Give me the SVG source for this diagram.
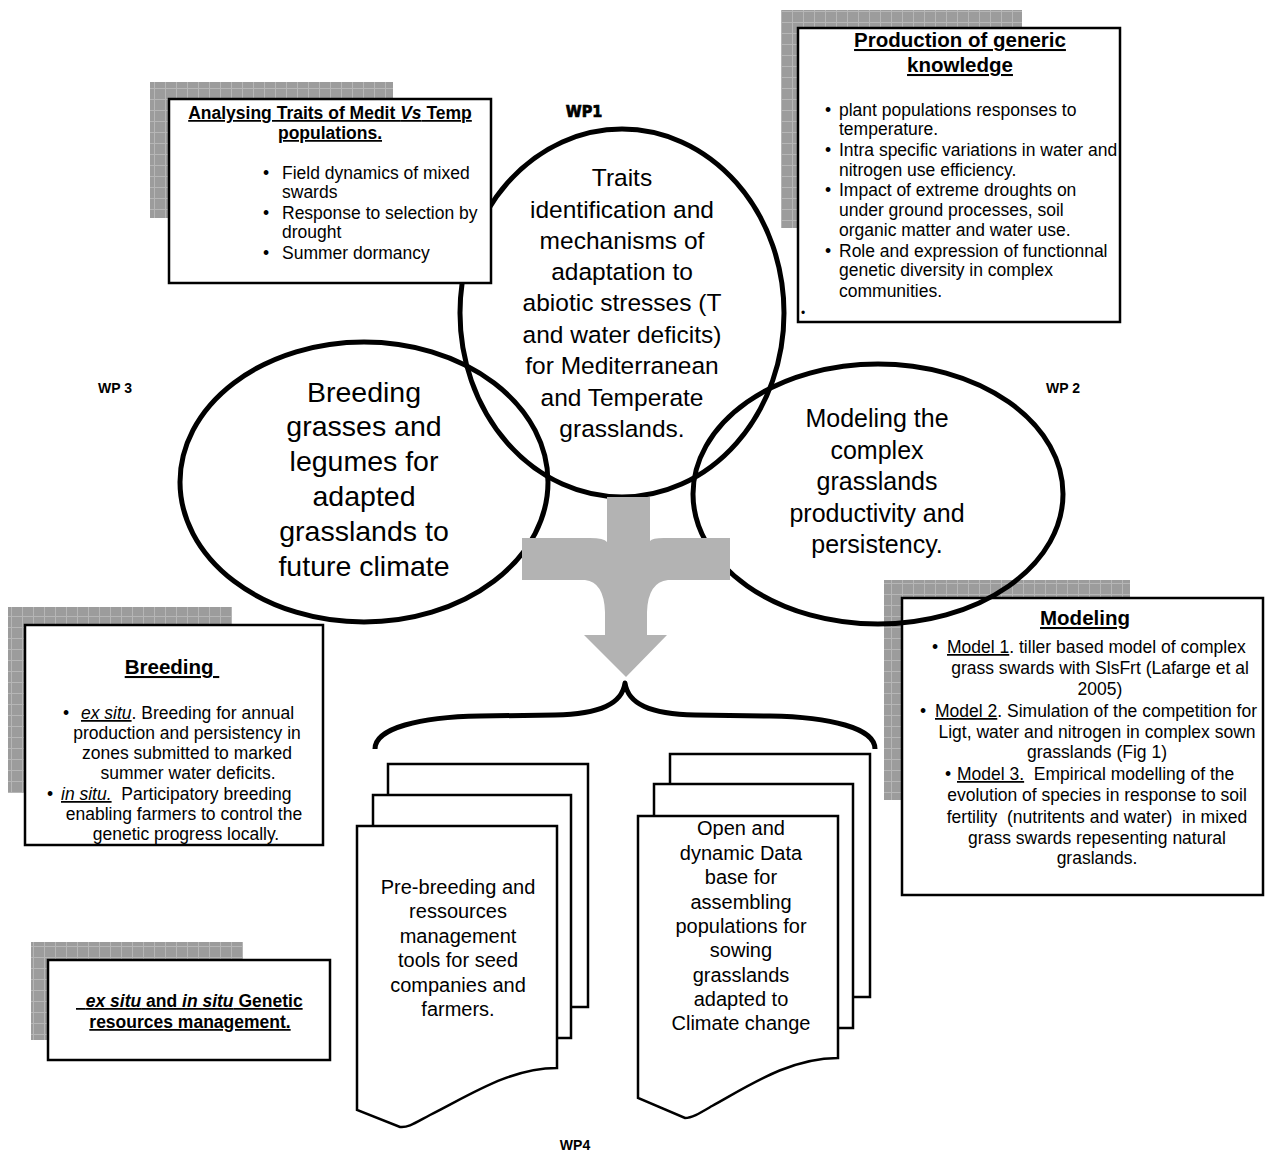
<svg xmlns="http://www.w3.org/2000/svg" width="1266" height="1153" viewBox="0 0 1266 1153">
<style>
.box{fill:#fff;stroke:#000;stroke-width:2.5}
.shadow{fill:url(#grid)}
.ell{fill:none;stroke:#000;stroke-width:5}
.doc{fill:#fff;stroke:#000;stroke-width:2.5}
.t{font-family:"Liberation Sans",Arial,sans-serif;font-size:17.5px;fill:#000}
.b{font-weight:bold}
.u{text-decoration:underline}
.c{text-anchor:middle}
.i{font-style:italic}
.title{font-size:20.5px}
.e1{font-size:24.5px}
.e2{font-size:28.5px}
.e3{font-size:25px}
.d{font-size:20px}
.wp{font-family:"Liberation Sans",Arial,sans-serif;font-size:14px;font-weight:bold;text-anchor:middle}
.wp1{font-family:"DejaVu Sans Condensed","DejaVu Sans",sans-serif;font-size:16px;font-weight:bold;text-anchor:middle;stroke:#000;stroke-width:0.7}
</style>
<defs>
<pattern id="grid" patternUnits="userSpaceOnUse" width="11" height="11">
<rect width="11" height="11" fill="#9c9c9c"/>
<path d="M0,0.5H11M0.5,0V11" stroke="#b6b6b6" stroke-width="1"/>
</pattern>
</defs>

<g id="wp1-ellipse">
<ellipse class="ell" cx="622" cy="313" rx="162" ry="184"/>
<text class="t e1 c" x="622" y="185.5">Traits</text>
<text class="t e1 c" x="622" y="217.5">identification and</text>
<text class="t e1 c" x="622" y="248.5">mechanisms of</text>
<text class="t e1 c" x="622" y="279.5">adaptation to</text>
<text class="t e1 c" x="622" y="310.5">abiotic stresses (T</text>
<text class="t e1 c" x="622" y="342.5">and water deficits)</text>
<text class="t e1 c" x="622" y="373.5">for Mediterranean</text>
<text class="t e1 c" x="622" y="405.5">and Temperate</text>
<text class="t e1 c" x="622" y="436.5">grasslands.</text>
</g>

<g id="box-traits">
<rect class="shadow" x="150" y="82" width="243" height="136"/>
<rect class="box" x="169" y="99" width="322" height="184"/>
<text class="t b u c" x="330" y="119">Analysing Traits of Medit <tspan class="i">Vs</tspan> Temp</text>
<text class="t b u c" x="330" y="139">populations.</text>
<text class="t" x="263" y="179">•</text>
<text class="t" x="282" y="179">Field dynamics of mixed</text>
<text class="t" x="282" y="198">swards</text>
<text class="t" x="263" y="219">•</text>
<text class="t" x="282" y="219">Response to selection by</text>
<text class="t" x="282" y="238">drought</text>
<text class="t" x="263" y="259">•</text>
<text class="t" x="282" y="259">Summer dormancy</text>
</g>

<g id="box-generic">
<rect class="shadow" x="781" y="10" width="241" height="218"/>
<rect class="box" x="798" y="28" width="322" height="294"/>
<text class="t b u c title" x="960" y="47">Production of generic</text>
<text class="t b u c title" x="960" y="72">knowledge</text>
<text class="t" x="825" y="116">•</text>
<text class="t" x="839" y="116">plant populations responses to</text>
<text class="t" x="839" y="135">temperature.</text>
<text class="t" x="825" y="156">•</text>
<text class="t" x="839" y="156">Intra specific variations in water and</text>
<text class="t" x="839" y="176">nitrogen use efficiency.</text>
<text class="t" x="825" y="196">•</text>
<text class="t" x="839" y="196">Impact of extreme droughts on</text>
<text class="t" x="839" y="216">under ground processes, soil</text>
<text class="t" x="839" y="236">organic matter and water use.</text>
<text class="t" x="825" y="257">•</text>
<text class="t" x="839" y="257">Role and expression of functionnal</text>
<text class="t" x="839" y="276">genetic diversity in complex</text>
<text class="t" x="839" y="297">communities.</text>
<text class="t" x="801" y="317" style="font-size:12px">•</text>
</g>

<g id="box-breeding">
<rect class="shadow" x="8" y="607" width="224" height="186"/>
<rect class="box" x="25" y="625" width="298" height="220"/>
<text class="t b u c title" x="172" y="674">Breeding&#160;</text>
<text class="t" x="63" y="719">•</text>
<text class="t" x="81" y="719"><tspan class="i u">ex situ</tspan>. Breeding for annual</text>
<text class="t c" x="187" y="739">production and persistency in</text>
<text class="t c" x="187" y="759">zones submitted to marked</text>
<text class="t c" x="188" y="779">summer water deficits.</text>
<text class="t" x="47" y="800">•</text>
<text class="t" x="61" y="800" xml:space="preserve"><tspan class="i u">in situ.</tspan>  Participatory breeding</text>
<text class="t c" x="184" y="820">enabling farmers to control the</text>
<text class="t c" x="186" y="840">genetic progress locally.</text>
</g>

<g id="box-modeling">
<rect class="shadow" x="884" y="580" width="246" height="220"/>
<rect class="box" x="902" y="598" width="361" height="297"/>
<text class="t b u c title" x="1085" y="625">Modeling</text>
<text class="t" x="932" y="653">•</text>
<text class="t" x="947" y="653"><tspan class="u">Model 1</tspan>. tiller based model of complex</text>
<text class="t c" x="1100" y="674">grass swards with SlsFrt (Lafarge et al</text>
<text class="t c" x="1100" y="695">2005)</text>
<text class="t" x="920" y="717">•</text>
<text class="t" x="935" y="717"><tspan class="u">Model 2</tspan>. Simulation of the competition for</text>
<text class="t c" x="1097" y="738">Ligt, water and nitrogen in complex sown</text>
<text class="t c" x="1097" y="758">grasslands (Fig 1)</text>
<text class="t" x="945" y="780">•</text>
<text class="t" x="957" y="780" xml:space="preserve"><tspan class="u">Model 3.</tspan>  Empirical modelling of the</text>
<text class="t c" x="1097" y="801">evolution of species in response to soil</text>
<text class="t c" x="1097" y="823" xml:space="preserve">fertility  (nutritents and water)  in mixed</text>
<text class="t c" x="1097" y="844">grass swards repesenting natural</text>
<text class="t c" x="1097" y="864">graslands.</text>
</g>

<g id="box-genetic">
<rect class="shadow" x="31" y="942" width="212" height="98"/>
<rect class="box" x="48" y="960" width="282" height="100"/>
<text class="t b u" x="76" y="1007" xml:space="preserve">&#160;&#160;<tspan class="i">ex situ</tspan> and <tspan class="i">in situ</tspan> Genetic</text>
<text class="t b u c" x="190" y="1028">resources management.</text>
</g>

<g id="wp3-ellipse">
<ellipse class="ell" cx="364" cy="482" rx="184" ry="140"/>
<text class="t e2 c" x="364" y="402">Breeding</text>
<text class="t e2 c" x="364" y="436">grasses and</text>
<text class="t e2 c" x="364" y="471">legumes for</text>
<text class="t e2 c" x="364" y="506">adapted</text>
<text class="t e2 c" x="364" y="541">grasslands to</text>
<text class="t e2 c" x="364" y="576">future climate</text>
</g>

<g id="wp2-ellipse">
<ellipse class="ell" cx="878" cy="494" rx="185" ry="130"/>
<text class="t e3 c" x="877" y="427">Modeling the</text>
<text class="t e3 c" x="877" y="459">complex</text>
<text class="t e3 c" x="877" y="490">grasslands</text>
<text class="t e3 c" x="877" y="522">productivity and</text>
<text class="t e3 c" x="877" y="553">persistency.</text>
</g>

<g id="connectors">
<path d="M607,497 L650,497 L650,541 Q652,538 664,538 L730,538 L730,580 L668,580 Q648,582 647,612 L647,635 L667,635 L626,677 L584,635 L605,635 L605,612 Q604,582 585,580 L522,580 L522,538 L590,538 Q604,538 607,542 Z" fill="#b3b3b3"/>
<path d="M375,749 C375,728 420,717 480,716 L555,715 C600,714 622,704 625,683 C628,704 650,714 695,715 L770,716 C830,717 875,728 875,749" fill="none" stroke="#000" stroke-width="5" stroke-linejoin="round"/>
</g>

<g id="doc-prebreeding">
<rect class="doc" x="388" y="764" width="200" height="243"/>
<rect class="doc" x="373" y="795" width="198" height="243"/>
<path class="doc" d="M357,826 H557 V1068 C510,1068 470,1095 430,1115 C415,1123 408,1128 400,1127 L357,1110 Z"/>
<text class="t d c" x="458" y="894">Pre-breeding and</text>
<text class="t d c" x="458" y="918">ressources</text>
<text class="t d c" x="458" y="943">management</text>
<text class="t d c" x="458" y="967">tools for seed</text>
<text class="t d c" x="458" y="992">companies and</text>
<text class="t d c" x="458" y="1016">farmers.</text>
</g>

<g id="doc-database">
<rect class="doc" x="670" y="754" width="200" height="243"/>
<rect class="doc" x="654" y="784" width="199" height="244"/>
<path class="doc" d="M638,816 H838 V1058 C790,1058 750,1085 712,1106 C700,1113 692,1118 685,1118 L638,1098 Z"/>
<text class="t d c" x="741" y="835">Open and</text>
<text class="t d c" x="741" y="860">dynamic Data</text>
<text class="t d c" x="741" y="884">base for</text>
<text class="t d c" x="741" y="909">assembling</text>
<text class="t d c" x="741" y="933">populations for</text>
<text class="t d c" x="741" y="957">sowing</text>
<text class="t d c" x="741" y="982">grasslands</text>
<text class="t d c" x="741" y="1006">adapted to</text>
<text class="t d c" x="741" y="1030">Climate change</text>
</g>

<g id="labels">
<text class="wp1" x="584" y="117">WP1</text>
<text class="wp" x="115" y="393">WP 3</text>
<text class="wp" x="1063" y="393">WP 2</text>
<text class="wp" x="575" y="1150">WP4</text>
</g>
</svg>
